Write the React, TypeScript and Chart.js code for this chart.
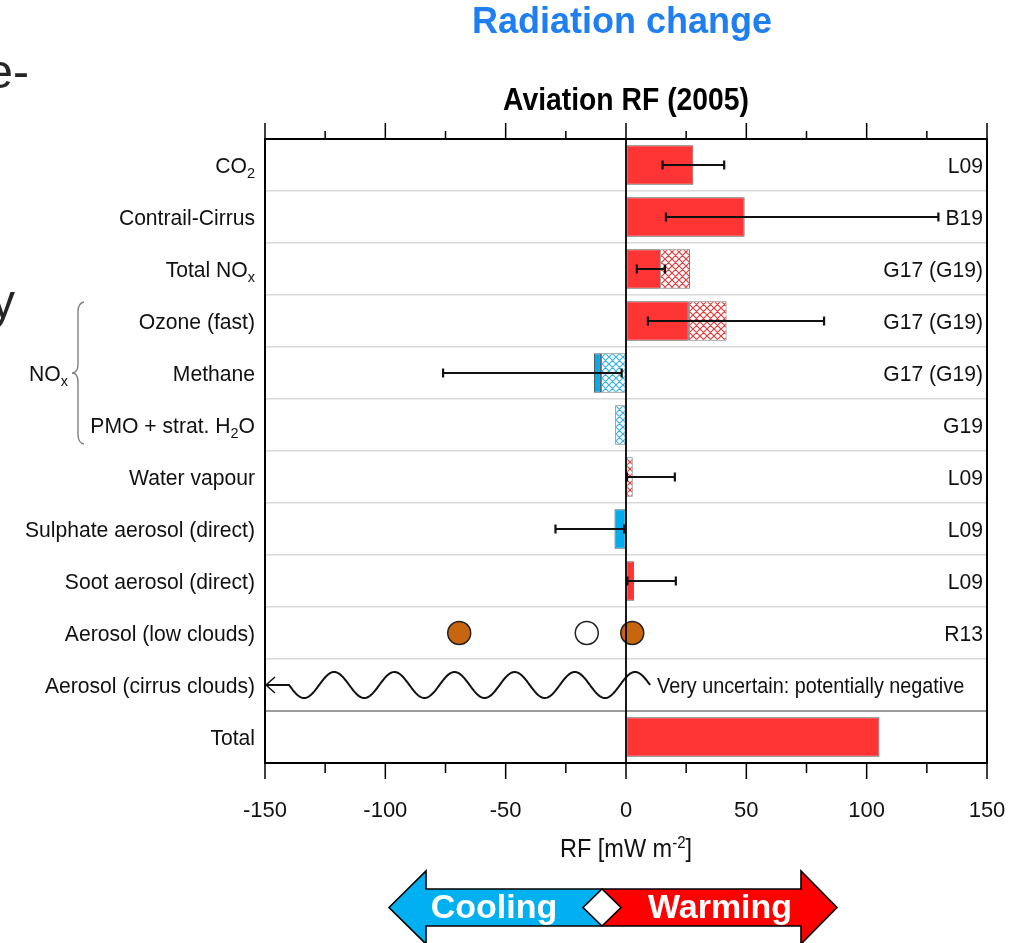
import { useEffect, useRef } from 'react';
import { Chart, registerables } from 'chart.js';

Chart.register(...registerables);

// Forcing terms, top to bottom. "_{...}" marks a subscript.
const categories = [
  'CO_{2}',
  'Contrail-Cirrus',
  'Total NO_{x}',
  'Ozone (fast)',
  'Methane',
  'PMO + strat. H_{2}O',
  'Water vapour',
  'Sulphate aerosol (direct)',
  'Soot aerosol (direct)',
  'Aerosol (low clouds)',
  'Aerosol (cirrus clouds)',
  'Total',
];
const references = ['L09', 'B19', 'G17 (G19)', 'G17 (G19)', 'G17 (G19)', 'G19', 'L09', 'L09', 'L09', 'R13', '', ''];

// RF in mW m-2, as [from, to] spans
const solidBars: ([number, number] | null)[] = [
  [0, 28.0], [0, 49.3], [0, 14.2], [0, 26.1], [-13.3, -10.4], null, null, [-4.8, 0], [0, 3.4], null, null, [0, 105.3],
];
const hatchedBars: ([number, number] | null)[] = [
  null, null, [14.2, 26.6], [26.1, 41.8], [-10.4, 0], [-4.5, 0], [0, 2.8], null, null, null, null, null,
];
const errorLow: (number | null)[] = [15.2, 16.6, 4.5, 9.1, -76.0, null, 0.4, -29.3, 0.6, null, null, null];
const errorHigh: (number | null)[] = [40.8, 129.8, 16.2, 82.3, -1.8, null, 20.3, -0.8, 20.7, null, null, null];

// Aerosol-cloud interaction estimates (R13)
const lowCloudValues = [-69.3, -16.3, 2.6];
const lowCloudFilled = [true, false, true];

// Cirrus aerosol effect: wavy "very uncertain" line
const WAVE_FROM = -140;
const WAVE_TO = 10;
const WAVE_PERIOD = 25;

const X_MIN = -150;
const X_MAX = 150;
const X_STEP = 25;

const FAMILY = "'Liberation Sans', Arial, Helvetica, sans-serif";
const RED = '#ff3434';
const BLUE = '#00aeef';
const BROWN = '#c8650f';

function makeHatch(lineColor: string): CanvasPattern | string {
  const s = 7;
  const c = document.createElement('canvas');
  c.width = s;
  c.height = s;
  const g = c.getContext('2d');
  if (!g) return '#fff';
  g.fillStyle = '#fff';
  g.fillRect(0, 0, s, s);
  g.strokeStyle = lineColor;
  g.lineWidth = 1.2;
  g.beginPath();
  for (const k of [-s, 0, s]) {
    g.moveTo(k, 0);
    g.lineTo(k + s, s);
    g.moveTo(k, s);
    g.lineTo(k + s, 0);
  }
  g.stroke();
  const p = g.createPattern(c, 'repeat');
  return p || '#fff';
}

type Seg = { t: string; sub: boolean };
function parseRich(s: string): Seg[] {
  const out: Seg[] = [];
  const re = /_\{([^}]*)\}/g;
  let last = 0;
  let m: RegExpExecArray | null;
  while ((m = re.exec(s))) {
    if (m.index > last) out.push({ t: s.slice(last, m.index), sub: false });
    out.push({ t: m[1], sub: true });
    last = re.lastIndex;
  }
  if (last < s.length) out.push({ t: s.slice(last), sub: false });
  return out;
}

// Text with subscripts, drawn in a slightly condensed face (sx = horizontal scale)
function drawRich(
  ctx: CanvasRenderingContext2D,
  s: string,
  x: number,
  baseline: number,
  size: number,
  align: 'left' | 'right',
  sx = 0.96,
) {
  const segs = parseRich(s);
  const main = `${size}px ${FAMILY}`;
  const small = `${Math.round(size * 0.66)}px ${FAMILY}`;
  let total = 0;
  for (const sg of segs) {
    ctx.font = sg.sub ? small : main;
    total += ctx.measureText(sg.t).width;
  }
  ctx.save();
  const startX = align === 'right' ? x - total * sx : x;
  ctx.translate(startX, baseline);
  ctx.scale(sx, 1);
  let cx = 0;
  ctx.textAlign = 'left';
  ctx.textBaseline = 'alphabetic';
  for (const sg of segs) {
    ctx.font = sg.sub ? small : main;
    ctx.fillText(sg.t, cx, sg.sub ? size * 0.24 : 0);
    cx += ctx.measureText(sg.t).width;
  }
  ctx.restore();
}

const rfDecor = {
  id: 'rfDecor',
  beforeDraw(chart: any) {
    const ctx = chart.ctx as CanvasRenderingContext2D;
    ctx.save();
    ctx.fillStyle = '#fff';
    ctx.fillRect(0, 0, chart.width, chart.height);
    ctx.restore();
  },
  afterDatasetsDraw(chart: any) {
    const ctx = chart.ctx as CanvasRenderingContext2D;
    const xs = chart.scales.x;
    const ys = chart.scales.y;
    const { left, right, top, bottom } = chart.chartArea;
    ctx.save();

    // error bars
    ctx.strokeStyle = '#111';
    ctx.lineWidth = 2.2;
    for (let i = 0; i < categories.length; i++) {
      const lo = errorLow[i];
      const hi = errorHigh[i];
      if (lo == null || hi == null) continue;
      const y = ys.getPixelForValue(i);
      const a = xs.getPixelForValue(lo);
      const b = xs.getPixelForValue(hi);
      ctx.beginPath();
      ctx.moveTo(a, y);
      ctx.lineTo(b, y);
      ctx.moveTo(a, y - 4.5);
      ctx.lineTo(a, y + 4.5);
      ctx.moveTo(b, y - 4.5);
      ctx.lineTo(b, y + 4.5);
      ctx.stroke();
    }

    // cirrus wave with arrow
    const cy = ys.getPixelForValue(10);
    const w0 = xs.getPixelForValue(WAVE_FROM);
    const w1 = xs.getPixelForValue(WAVE_TO);
    const per = xs.getPixelForValue(WAVE_PERIOD) - xs.getPixelForValue(0);
    const amp = 13;
    ctx.lineWidth = 2;
    ctx.strokeStyle = '#111';
    ctx.beginPath();
    ctx.moveTo(left + 1, cy);
    ctx.lineTo(w0, cy);
    for (let x = w0; x <= w1; x += 1) {
      ctx.lineTo(x, cy + amp * Math.sin((2 * Math.PI * (x - w0)) / per));
    }
    ctx.stroke();
    ctx.lineWidth = 1.5;
    ctx.beginPath();
    ctx.moveTo(left + 10, cy - 8);
    ctx.lineTo(left + 1, cy);
    ctx.lineTo(left + 10, cy + 8);
    ctx.stroke();

    // zero line
    const x0 = xs.getPixelForValue(0);
    ctx.strokeStyle = '#000';
    ctx.lineWidth = 1.8;
    ctx.beginPath();
    ctx.moveTo(x0, top);
    ctx.lineTo(x0, bottom);
    ctx.stroke();

    // frame and tick marks
    ctx.lineWidth = 2;
    ctx.strokeRect(left, top, right - left, bottom - top);
    ctx.lineWidth = 1.5;
    ctx.beginPath();
    for (const t of xs.ticks) {
      const px = xs.getPixelForValue(t.value);
      const major = t.value % 50 === 0;
      ctx.moveTo(px, top);
      ctx.lineTo(px, top - (major ? 16 : 8));
      ctx.moveTo(px, bottom);
      ctx.lineTo(px, bottom + (major ? 16 : 10));
    }
    ctx.stroke();
    ctx.restore();
  },
  afterDraw(chart: any) {
    const ctx = chart.ctx as CanvasRenderingContext2D;
    const xs = chart.scales.x;
    const ys = chart.scales.y;
    const { left, right } = chart.chartArea;
    ctx.save();
    ctx.fillStyle = '#111';

    // category labels and source references
    for (let i = 0; i < categories.length; i++) {
      const y = ys.getPixelForValue(i);
      drawRich(ctx, categories[i], left - 10, y + 8, 22, 'right');
      if (references[i]) drawRich(ctx, references[i], right - 4, y + 8, 22, 'right');
    }

    // cirrus annotation
    const cy = ys.getPixelForValue(10);
    drawRich(ctx, 'Very uncertain: potentially negative', xs.getPixelForValue(WAVE_TO) + 7, cy + 8, 22, 'left', 0.9);

    // NOx brace
    const bt = ys.getPixelForValue(3) - 19;
    const bb = ys.getPixelForValue(5) + 19;
    const bm = ys.getPixelForValue(4);
    const bx = 78;
    ctx.strokeStyle = '#808080';
    ctx.lineWidth = 1.4;
    ctx.beginPath();
    ctx.moveTo(bx + 6, bt);
    ctx.quadraticCurveTo(bx, bt + 1, bx, bt + 10);
    ctx.lineTo(bx, bm - 9);
    ctx.quadraticCurveTo(bx, bm, bx - 6, bm);
    ctx.quadraticCurveTo(bx, bm, bx, bm + 9);
    ctx.lineTo(bx, bb - 10);
    ctx.quadraticCurveTo(bx, bb - 1, bx + 6, bb);
    ctx.stroke();
    drawRich(ctx, 'NO_{x}', 68, bm + 8, 22, 'right');

    // titles
    ctx.textAlign = 'center';
    ctx.textBaseline = 'middle';
    ctx.font = `bold 31px ${FAMILY}`;
    ctx.fillStyle = '#000';
    ctx.fillText('Aviation RF (2005)', (left + right) / 2, 101, 246);
    ctx.font = `bold 36px ${FAMILY}`;
    ctx.fillStyle = '#1f7ff0';
    ctx.fillText('Radiation change', 622, 23, 300);

    // axis title with superscript
    ctx.fillStyle = '#111';
    const tMain = `25px ${FAMILY}`;
    const tSup = `16px ${FAMILY}`;
    const parts: [string, boolean][] = [['RF [mW m', false], ['-2', true], [']', false]];
    let tw = 0;
    for (const [t, sup] of parts) {
      ctx.font = sup ? tSup : tMain;
      tw += ctx.measureText(t).width;
    }
    const sxT = 0.94;
    ctx.save();
    ctx.translate((left + right) / 2 - (tw * sxT) / 2, 0);
    ctx.scale(sxT, 1);
    let tx = 0;
    ctx.textAlign = 'left';
    ctx.textBaseline = 'alphabetic';
    for (const [t, sup] of parts) {
      ctx.font = sup ? tSup : tMain;
      ctx.fillText(t, tx, sup ? 848 : 857);
      tx += ctx.measureText(t).width;
    }
    ctx.restore();

    // cooling / warming double arrow
    const midX = 602;
    const yT = 889, yB = 926, yM = 907.5;
    const lTip = 389, lBase = 426, rBase = 801, rTip = 837;
    const hT = 871, hB = 944;
    ctx.lineWidth = 1.6;
    ctx.strokeStyle = '#000';
    ctx.fillStyle = '#00b0f0';
    ctx.beginPath();
    ctx.moveTo(lTip, yM);
    ctx.lineTo(lBase, hT);
    ctx.lineTo(lBase, yT);
    ctx.lineTo(midX, yT);
    ctx.lineTo(midX, yB);
    ctx.lineTo(lBase, yB);
    ctx.lineTo(lBase, hB);
    ctx.closePath();
    ctx.fill();
    ctx.fillStyle = '#ff0000';
    ctx.beginPath();
    ctx.moveTo(midX, yT);
    ctx.lineTo(rBase, yT);
    ctx.lineTo(rBase, hT);
    ctx.lineTo(rTip, yM);
    ctx.lineTo(rBase, hB);
    ctx.lineTo(rBase, yB);
    ctx.lineTo(midX, yB);
    ctx.closePath();
    ctx.fill();
    ctx.beginPath();
    ctx.moveTo(lTip, yM);
    ctx.lineTo(lBase, hT);
    ctx.lineTo(lBase, yT);
    ctx.lineTo(rBase, yT);
    ctx.lineTo(rBase, hT);
    ctx.lineTo(rTip, yM);
    ctx.lineTo(rBase, hB);
    ctx.lineTo(rBase, yB);
    ctx.lineTo(lBase, yB);
    ctx.lineTo(lBase, hB);
    ctx.closePath();
    ctx.stroke();
    ctx.fillStyle = '#fff';
    ctx.beginPath();
    ctx.moveTo(midX, yT);
    ctx.lineTo(midX + 19, yM);
    ctx.lineTo(midX, yB);
    ctx.lineTo(midX - 19, yM);
    ctx.closePath();
    ctx.fill();
    ctx.stroke();
    ctx.font = `bold 34px ${FAMILY}`;
    ctx.textAlign = 'center';
    ctx.textBaseline = 'middle';
    ctx.fillText('Cooling', 494, 909, 132);
    ctx.fillText('Warming', 720, 909, 152);

    // slide text running in from the left
    ctx.fillStyle = '#262626';
    ctx.font = `48px ${FAMILY}`;
    ctx.textAlign = 'right';
    ctx.textBaseline = 'alphabetic';
    ctx.fillText('e-', 29, 88);
    ctx.fillText('y', 15, 318);
    ctx.restore();
  },
};

export default function App() {
  const ref = useRef<HTMLCanvasElement>(null);

  useEffect(() => {
    document.body.style.margin = '0';
    const canvas = ref.current;
    if (!canvas) return;
    const redHatch = makeHatch('#e23c3c');
    const blueHatch = makeHatch('#36b2e6');
    const spanSign = (r: [number, number] | null) => (r ? r[0] + r[1] : 0);

    const chart = new Chart(canvas, {
      type: 'bar',
      data: {
        labels: categories,
        datasets: [
          {
            type: 'scatter',
            label: 'Aerosol (low clouds)',
            data: lowCloudValues.map((v) => ({ x: v, y: 'Aerosol (low clouds)' })) as any,
            pointRadius: 11.5,
            pointHoverRadius: 11.5,
            pointBorderWidth: 1.5,
            pointBorderColor: '#222',
            pointBackgroundColor: lowCloudFilled.map((f) => (f ? BROWN : '#fff')),
            showLine: false,
          } as any,
          {
            label: 'RF',
            data: solidBars as any,
            grouped: false,
            backgroundColor: solidBars.map((r) => (spanSign(r) < 0 ? BLUE : RED)),
            borderColor: '#5a5a5a',
            borderWidth: 1,
            borderSkipped: false,
            categoryPercentage: 1,
            barPercentage: 0.76,
          } as any,
          {
            label: 'RF (G19)',
            data: hatchedBars as any,
            grouped: false,
            backgroundColor: hatchedBars.map((r) => (spanSign(r) < 0 ? blueHatch : redHatch)),
            borderColor: '#7a7a7a',
            borderWidth: 1,
            borderSkipped: false,
            categoryPercentage: 1,
            barPercentage: 0.76,
          } as any,
        ],
      },
      options: {
        indexAxis: 'y',
        responsive: false,
        animation: false,
        devicePixelRatio: 1,
        events: [],
        layout: { padding: { left: 0, right: 43, top: 139, bottom: 0 } },
        plugins: { legend: { display: false }, tooltip: { enabled: false }, title: { display: false } },
        scales: {
          x: {
            type: 'linear',
            min: X_MIN,
            max: X_MAX,
            afterFit: (s: any) => {
              s.height = 180;
            },
            ticks: {
              stepSize: X_STEP,
              autoSkip: false,
              maxRotation: 0,
              padding: 19,
              color: '#111',
              font: { family: FAMILY, size: 22 },
              callback: (v: any) => (Number(v) % 50 === 0 ? String(v) : ''),
            },
            grid: {
              display: true,
              drawOnChartArea: false,
              drawTicks: true,
              tickLength: 16,
              tickColor: 'rgba(0,0,0,0)',
            },
            border: { display: false },
          },
          y: {
            type: 'category',
            afterFit: (s: any) => {
              s.width = 265;
            },
            ticks: { display: false },
            grid: {
              offset: true,
              drawTicks: false,
              color: (c: any) => (c.index === 11 ? '#9c9c9c' : '#dadada'),
              lineWidth: (c: any) => (c.index === 11 ? 2 : 1.5),
            },
            border: { display: false },
          },
        },
      } as any,
      plugins: [rfDecor],
    });

    return () => chart.destroy();
  }, []);

  return (
    <div style={{ position: 'relative', width: 1030, height: 943, background: '#fff' }}>
      <canvas ref={ref} width={1030} height={943} style={{ display: 'block' }} />
    </div>
  );
}
